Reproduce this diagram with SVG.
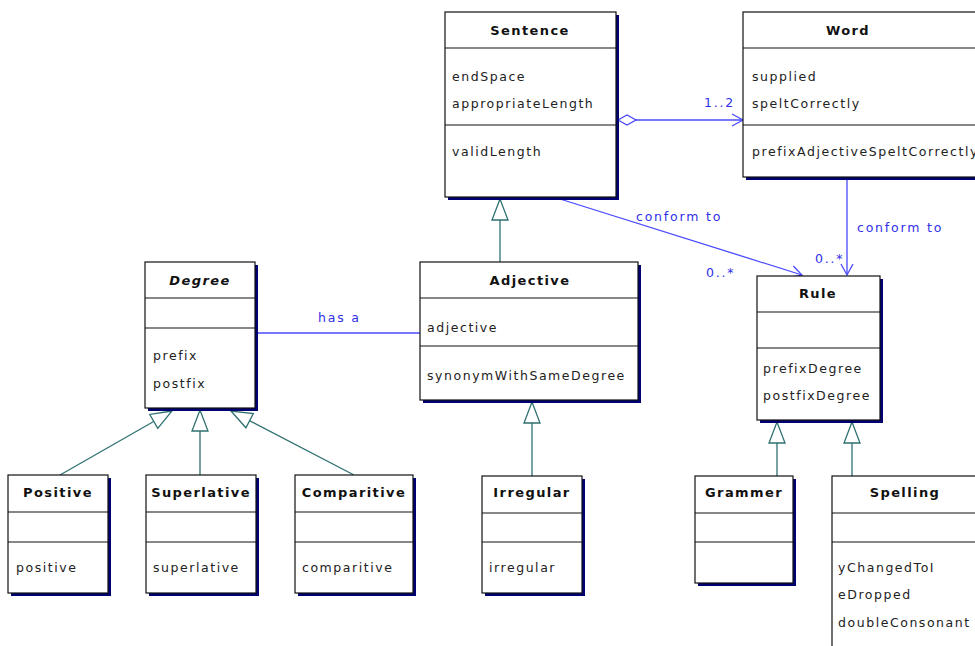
<svg xmlns="http://www.w3.org/2000/svg" width="975" height="646" viewBox="0 0 975 646">
<style>
.sh{fill:#000070}
.bx{fill:#fff;stroke:#111;stroke-width:1.2}
.dv{stroke:#111;stroke-width:1.2}
.t{font-family:"DejaVu Sans",sans-serif;font-size:13px;font-weight:bold;letter-spacing:1.4px;fill:#111;text-anchor:middle}
.a{font-family:"DejaVu Sans",sans-serif;font-size:12.5px;letter-spacing:1.55px;fill:#222}
.gen{fill:none;stroke:#2f7070;stroke-width:1.3}
.as{fill:none;stroke:#4a4aff;stroke-width:1.3}
.lb{font-family:"DejaVu Sans",sans-serif;font-size:12.5px;letter-spacing:1.8px;fill:#3030e8}
</style>
<defs>
<marker id="tri" markerUnits="userSpaceOnUse" viewBox="-23 -11 25 22" markerWidth="25" markerHeight="22" refX="0" refY="0" orient="auto">
<path d="M0,0 L-21,-8 L-21,8 Z" fill="#fff" stroke="#2f7070" stroke-width="1.3"/>
</marker>
<marker id="arr" markerUnits="userSpaceOnUse" viewBox="-13 -8 15 16" markerWidth="15" markerHeight="16" refX="0" refY="0" orient="auto">
<path d="M-11,-6 L0,0 L-11,6" fill="none" stroke="#4a4aff" stroke-width="1.3"/>
</marker>
<marker id="dia" markerUnits="userSpaceOnUse" viewBox="-2 -7 24 14" markerWidth="24" markerHeight="14" refX="0" refY="0" orient="auto">
<path d="M0,0 L9,-5 L18,0 L9,5 Z" fill="#fff" stroke="#4a4aff" stroke-width="1.3"/>
</marker>
</defs>
<rect width="975" height="646" fill="#fff"/>

<g id="connectors">
<path class="gen" d="M500,263 L500,199" marker-end="url(#tri)"/>
<path class="gen" d="M60,475 L172,411" marker-end="url(#tri)"/>
<path class="gen" d="M200,475 L200,410" marker-end="url(#tri)"/>
<path class="gen" d="M354,475 L231,411" marker-end="url(#tri)"/>
<path class="gen" d="M532,476 L532,402" marker-end="url(#tri)"/>
<path class="gen" d="M777,476 L777,422" marker-end="url(#tri)"/>
<path class="gen" d="M852,476 L852,422" marker-end="url(#tri)"/>
<path class="as" d="M618,120 L743,120" marker-start="url(#dia)" marker-end="url(#arr)"/>
<path class="as" d="M560,199 L802,275" marker-end="url(#arr)"/>
<path class="as" d="M847,178 L847,275" marker-end="url(#arr)"/>
<path class="as" d="M257,333 L420,333"/>
<text class="lb" x="704" y="107">1..2</text>
<text class="lb" x="636" y="221">conform to</text>
<text class="lb" x="706" y="277">0..*</text>
<text class="lb" x="815" y="263">0..*</text>
<text class="lb" x="857" y="232">conform to</text>
<text class="lb" x="318" y="322">has a</text>
</g>

<g id="sentence">
<rect class="sh" x="448" y="15" width="171" height="185"/>
<rect class="bx" x="445" y="12" width="171" height="185"/>
<line class="dv" x1="445" y1="48" x2="616" y2="48"/>
<line class="dv" x1="445" y1="125" x2="616" y2="125"/>
<text class="t" x="530" y="35">Sentence</text>
<text class="a" x="452" y="81">endSpace</text>
<text class="a" x="452" y="108">appropriateLength</text>
<text class="a" x="452" y="156">validLength</text>
</g>

<g id="word">
<rect class="sh" x="746" y="15" width="240" height="165"/>
<rect class="bx" x="743" y="12" width="240" height="165"/>
<line class="dv" x1="743" y1="48" x2="983" y2="48"/>
<line class="dv" x1="743" y1="125" x2="983" y2="125"/>
<text class="t" x="848" y="35">Word</text>
<text class="a" x="752" y="81">supplied</text>
<text class="a" x="752" y="108">speltCorrectly</text>
<text class="a" x="752" y="156">prefixAdjectiveSpeltCorrectly</text>
</g>

<g id="degree">
<rect class="sh" x="148" y="265" width="110" height="146"/>
<rect class="bx" x="145" y="262" width="110" height="146"/>
<line class="dv" x1="145" y1="298" x2="255" y2="298"/>
<line class="dv" x1="145" y1="328" x2="255" y2="328"/>
<text class="t" x="200" y="285" font-style="italic">Degree</text>
<text class="a" x="153" y="360">prefix</text>
<text class="a" x="153" y="388">postfix</text>
</g>

<g id="adjective">
<rect class="sh" x="423" y="265" width="218" height="138"/>
<rect class="bx" x="420" y="262" width="218" height="138"/>
<line class="dv" x1="420" y1="298" x2="638" y2="298"/>
<line class="dv" x1="420" y1="346" x2="638" y2="346"/>
<text class="t" x="530" y="285">Adjective</text>
<text class="a" x="427" y="332">adjective</text>
<text class="a" x="427" y="380">synonymWithSameDegree</text>
</g>

<g id="rule">
<rect class="sh" x="760" y="279" width="123" height="144"/>
<rect class="bx" x="757" y="276" width="123" height="144"/>
<line class="dv" x1="757" y1="312" x2="880" y2="312"/>
<line class="dv" x1="757" y1="348" x2="880" y2="348"/>
<text class="t" x="818" y="298">Rule</text>
<text class="a" x="763" y="373">prefixDegree</text>
<text class="a" x="763" y="400">postfixDegree</text>
</g>

<g id="positive">
<rect class="sh" x="11" y="478" width="100" height="118"/>
<rect class="bx" x="8" y="475" width="100" height="118"/>
<line class="dv" x1="8" y1="512" x2="108" y2="512"/>
<line class="dv" x1="8" y1="542" x2="108" y2="542"/>
<text class="t" x="58" y="497">Positive</text>
<text class="a" x="16" y="572">positive</text>
</g>

<g id="superlative">
<rect class="sh" x="149" y="478" width="110" height="118"/>
<rect class="bx" x="146" y="475" width="110" height="118"/>
<line class="dv" x1="146" y1="512" x2="256" y2="512"/>
<line class="dv" x1="146" y1="542" x2="256" y2="542"/>
<text class="t" x="201" y="497">Superlative</text>
<text class="a" x="153" y="572">superlative</text>
</g>

<g id="comparitive">
<rect class="sh" x="298" y="478" width="118" height="118"/>
<rect class="bx" x="295" y="475" width="118" height="118"/>
<line class="dv" x1="295" y1="512" x2="413" y2="512"/>
<line class="dv" x1="295" y1="542" x2="413" y2="542"/>
<text class="t" x="354" y="497">Comparitive</text>
<text class="a" x="302" y="572">comparitive</text>
</g>

<g id="irregular">
<rect class="sh" x="485" y="479" width="100" height="117"/>
<rect class="bx" x="482" y="476" width="100" height="117"/>
<line class="dv" x1="482" y1="513" x2="582" y2="513"/>
<line class="dv" x1="482" y1="542" x2="582" y2="542"/>
<text class="t" x="532" y="497">Irregular</text>
<text class="a" x="489" y="572">irregular</text>
</g>

<g id="grammer">
<rect class="sh" x="698" y="479" width="98" height="107"/>
<rect class="bx" x="695" y="476" width="98" height="107"/>
<line class="dv" x1="695" y1="513" x2="793" y2="513"/>
<line class="dv" x1="695" y1="542" x2="793" y2="542"/>
<text class="t" x="744" y="497">Grammer</text>
</g>

<g id="spelling">
<rect class="bx" x="832" y="476" width="160" height="200"/>
<line class="dv" x1="832" y1="513" x2="992" y2="513"/>
<line class="dv" x1="832" y1="542" x2="992" y2="542"/>
<text class="t" x="905" y="497">Spelling</text>
<text class="a" x="838" y="572">yChangedToI</text>
<text class="a" x="838" y="599">eDropped</text>
<text class="a" x="838" y="627">doubleConsonant</text>
</g>
</svg>
